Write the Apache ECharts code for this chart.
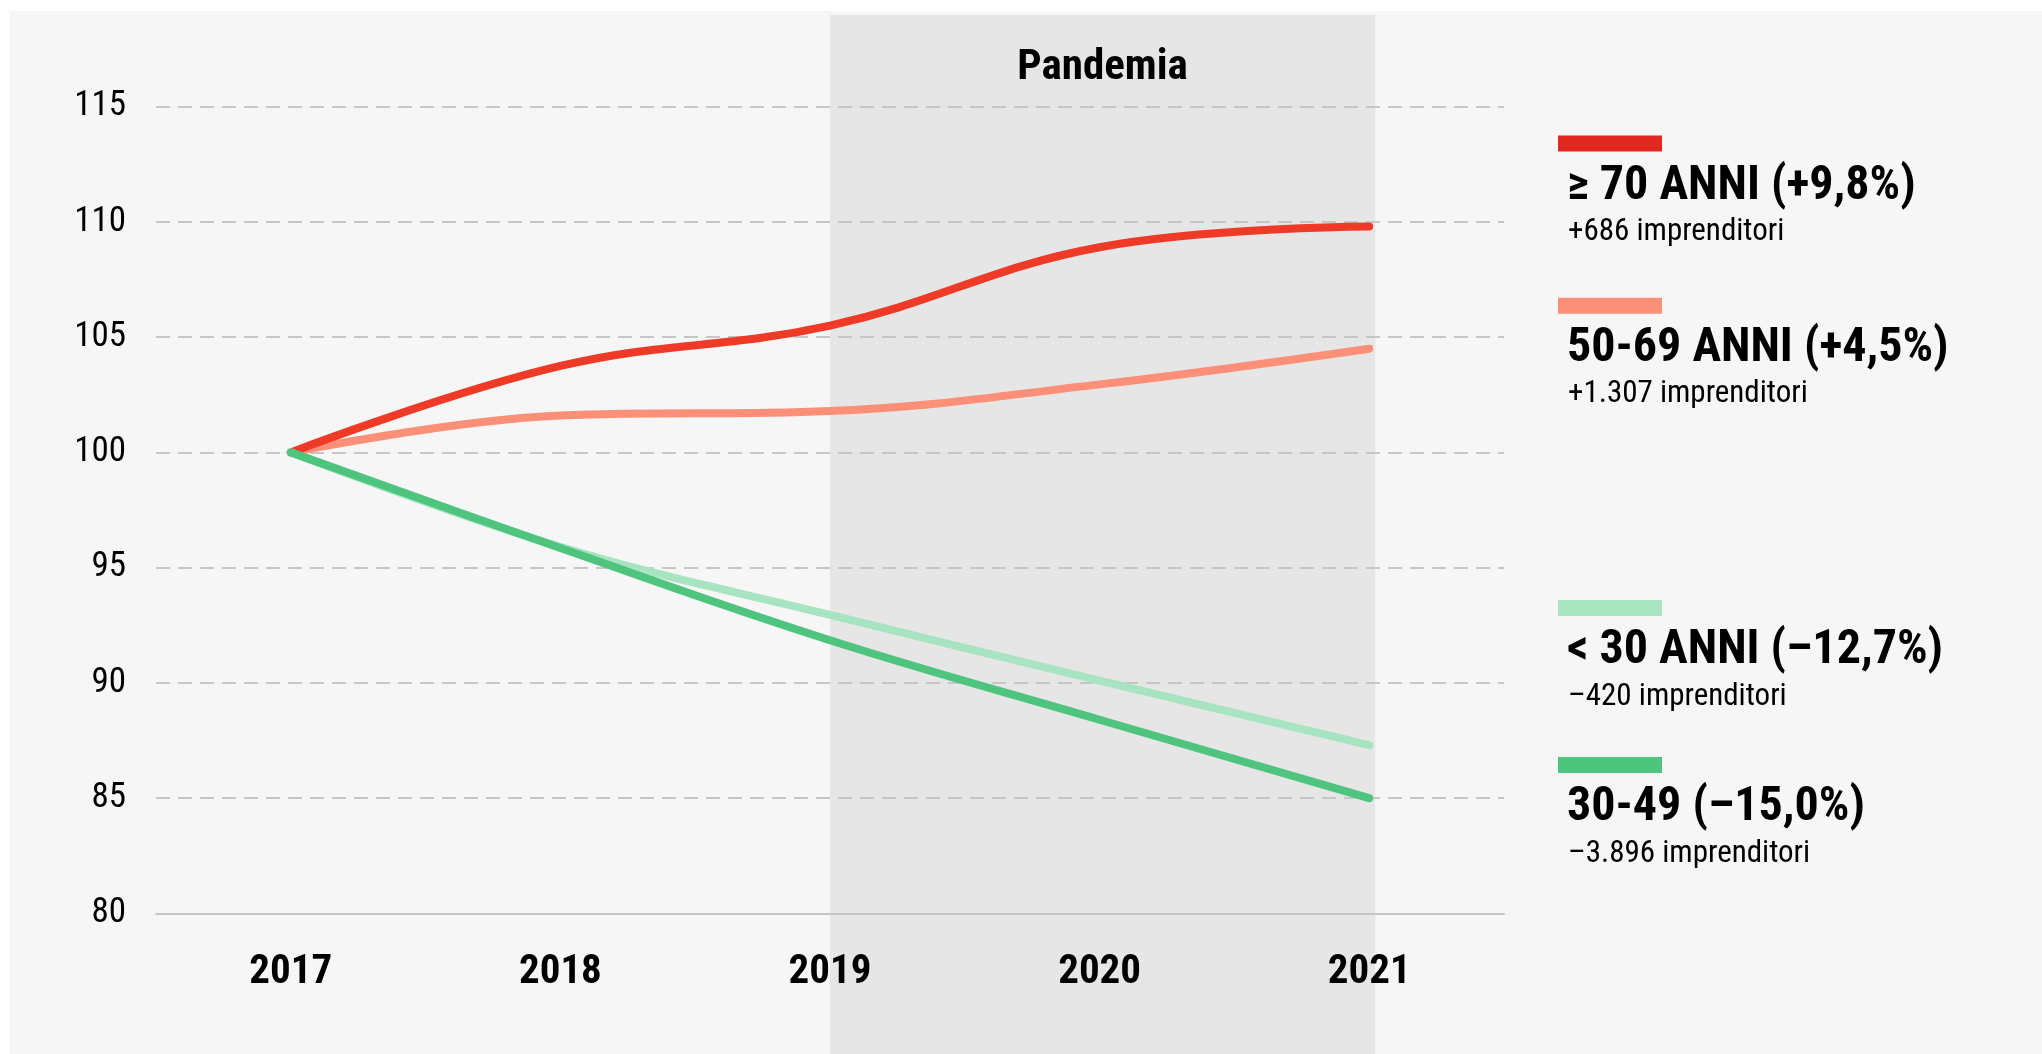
<!DOCTYPE html>
<html>
<head>
<meta charset="utf-8">
<script src="https://cdn.jsdelivr.net/npm/echarts@6/dist/echarts.min.js"></script>
<style>
html,body{margin:0;padding:0;background:#fff;}
#c{width:2042px;height:1054px;}
</style>
</head>
<body>
<div id="c"></div>
<script>
const years = ['2017', '2018', '2019', '2020', '2021'];
const yTicks = [80, 85, 90, 95, 100, 105, 110, 115];
const over70 = [100, 103.75, 105.5, 108.9, 109.8];
const age50to69 = [100, 101.6, 101.8, 102.95, 104.5];
const under30 = [100, 95.9, 92.95, 90.1, 87.3];
const age30to49 = [100, 95.85, 91.85, 88.4, 85.0];
const seriesNames = ['≥ 70 ANNI (+9,8%)', '50-69 ANNI (+4,5%)', '< 30 ANNI (–12,7%)', '30-49 (–15,0%)'];
const seriesNotes = ['+686 imprenditori', '+1.307 imprenditori', '–420 imprenditori', '–3.896 imprenditori'];
const pandemicRange = ['2019', '2021'];
const pandemicLabel = 'Pandemia';

const FONT = '"Roboto Condensed", "Liberation Sans", sans-serif';
const lineColors = ['#ee3a26', '#fb8f77', '#a8e4c2', '#4fc47f'];
const barColors = ['#e2281f', '#fb8f77', '#a8e4c2', '#4fc47f'];

const chart = echarts.init(document.getElementById('c'), null, {renderer: 'canvas'});

function lineSeries(name, data, color, z) {
  return {
    name: name, type: 'line', data: data, smooth: 0.4, showSymbol: false, z: z,
    lineStyle: {color: color, width: 8, cap: 'round', join: 'round'},
    emphasis: {disabled: true}
  };
}

chart.setOption({
  backgroundColor: '#ffffff',
  animation: false,
  grid: {left: 156, right: 538, top: 106.7, bottom: 140.7, containLabel: false},
  xAxis: {
    type: 'category', data: years, boundaryGap: true,
    axisLine: {show: true, lineStyle: {color: '#c6c6c6', width: 2}},
    axisTick: {show: false},
    axisLabel: {color: '#000', fontFamily: FONT, fontWeight: 'bold', fontSize: 41, margin: 39},
    splitLine: {show: false}
  },
  yAxis: {
    type: 'value', min: yTicks[0], max: yTicks[yTicks.length - 1], interval: 5,
    axisLine: {show: false}, axisTick: {show: false},
    axisLabel: {color: '#000', fontFamily: FONT, fontSize: 35, margin: 30},
    splitLine: {show: true, lineStyle: {color: '#c6c6c6', width: 2, type: [14, 8]}}
  },
  series: [
    lineSeries(seriesNames[1], age50to69, lineColors[1], 3),
    lineSeries(seriesNames[0], over70, lineColors[0], 4),
    lineSeries(seriesNames[2], under30, lineColors[2], 5),
    lineSeries(seriesNames[3], age30to49, lineColors[3], 6)
  ]
});

// Shaded pandemic band placed through the x axis scale
const x0 = chart.convertToPixel({xAxisIndex: 0}, pandemicRange[0]);
const x1 = chart.convertToPixel({xAxisIndex: 0}, pandemicRange[1]) + 6;

const legendTops = [135.6, 297.7, 600, 757];
const legendEls = [];
seriesNames.forEach(function (n, i) {
  const T = legendTops[i];
  legendEls.push({type: 'rect', shape: {x: 1558, y: T, width: 104, height: 16}, style: {fill: barColors[i]}, z: 10});
  legendEls.push({type: 'text', x: 1567, y: T + 51, style: {text: n, fill: '#000', font: 'bold 48px ' + FONT, verticalAlign: 'middle'}, z: 10});
  legendEls.push({type: 'text', x: 1568, y: T + 97, style: {text: seriesNotes[i], fill: '#000', font: '31px ' + FONT, verticalAlign: 'middle'}, z: 10});
});

chart.setOption({
  graphic: {
    elements: [
      {type: 'rect', z: -20, silent: true, shape: {x: 10, y: 11, width: 2042, height: 1054}, style: {fill: '#f6f6f6'}},
      {type: 'rect', z: -10, silent: true, shape: {x: x0, y: 15, width: x1 - x0, height: 1054}, style: {fill: '#e6e6e6'}},
      {type: 'text', z: 10, x: (x0 + x1) / 2, y: 68, style: {text: pandemicLabel, fill: '#000', font: 'bold 43px ' + FONT, align: 'center', verticalAlign: 'middle'}}
    ].concat(legendEls)
  }
});
</script>
</body>
</html>
